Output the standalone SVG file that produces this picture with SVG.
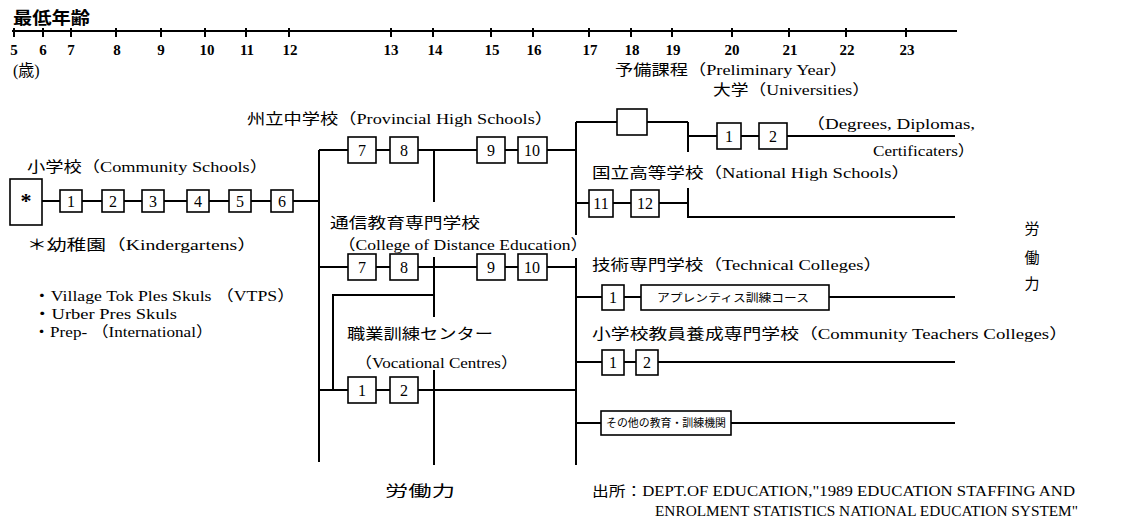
<svg xmlns="http://www.w3.org/2000/svg" width="1122" height="520" viewBox="0 0 1122 520">
<style>
  text { font-family: "Liberation Serif", "Noto Sans CJK JP", serif; fill: #000; }
  .lbl { font-size: 15px; }
  .ax { font-size: 15px; font-weight: bold; text-anchor: middle; }
  .num { font-size: 16px; text-anchor: middle; }
  .sm { font-size: 11px; }
  .box { fill: #fff; stroke: #000; stroke-width: 1.6; }
  .ln { stroke: #000; stroke-width: 2; fill: none; }
</style>
<rect width="1122" height="520" fill="#fff"/>

<g id="axis">
  <text x="13" y="24" style="font-size:17px;font-weight:bold" textLength="77" lengthAdjust="spacingAndGlyphs">最低年齢</text>
  <path class="ln" d="M12 31 H957 M14 28 V37 M43 28 V37 M71 28 V37 M116 28 V37 M161 28 V37 M205 28 V37 M246 28 V37 M289 28 V37 M391 28 V37 M433 28 V37 M491 28 V37 M533 28 V37 M589 28 V37 M631 28 V37 M672 28 V37 M732 28 V37 M789 28 V37 M846 28 V37 M906 28 V37"/>
  <text class="ax" x="14" y="55">5</text>
  <text class="ax" x="43" y="55">6</text>
  <text class="ax" x="71" y="55">7</text>
  <text class="ax" x="117" y="55">8</text>
  <text class="ax" x="161" y="55">9</text>
  <text class="ax" x="207" y="55">10</text>
  <text class="ax" x="247" y="55">11</text>
  <text class="ax" x="290" y="55">12</text>
  <text class="ax" x="391" y="55">13</text>
  <text class="ax" x="435" y="55">14</text>
  <text class="ax" x="492" y="55">15</text>
  <text class="ax" x="534" y="55">16</text>
  <text class="ax" x="590" y="55">17</text>
  <text class="ax" x="632" y="55">18</text>
  <text class="ax" x="673" y="55">19</text>
  <text class="ax" x="732" y="55">20</text>
  <text class="ax" x="790" y="55">21</text>
  <text class="ax" x="847" y="55">22</text>
  <text class="ax" x="907" y="55">23</text>
  <text class="lbl" x="13" y="76" style="font-size:16px">(歳)</text>
</g>

<g id="connectors">
  <path class="ln" d="M42 201 H60 M82 201 H102 M124 201 H142 M164 201 H187 M209 201 H229 M251 201 H271 M293 201 H319"/>
  <path class="ln" d="M319 150 V462"/>
  <path class="ln" d="M319 150 H348 M376 150 H390 M418 150 H477 M505 150 H518 M547 150 H576"/>
  <path class="ln" d="M434 150 V202 M434 257 V317 M434 370 V465"/>
  <path class="ln" d="M319 267 H348 M376 267 H390 M418 267 H477 M505 267 H518 M547 267 H576"/>
  <path class="ln" d="M333 390 V295 H434"/>
  <path class="ln" d="M319 390 H348 M376 390 H390 M418 390 H576"/>
  <path class="ln" d="M576 122 V235 M576 258 V465"/>
  <path class="ln" d="M576 122 H617 M647 122 H688 M688 122 V152 M688 136 H717 M741 136 H759 M787 136 H955"/>
  <path class="ln" d="M576 203 H589 M613 203 H631 M659 203 H688 M688 188 V217 H955"/>
  <path class="ln" d="M576 297 H602 M624 297 H641 M829 297 H955"/>
  <path class="ln" d="M576 362 H602 M624 362 H636 M658 362 H955"/>
  <path class="ln" d="M576 423 H601 M731 423 H955"/>
</g>

<g id="community-schools">
  <text class="lbl" x="27" y="172" textLength="241" lengthAdjust="spacingAndGlyphs">小学校（Community Schools）</text>
  <rect class="box" x="10" y="179" width="32" height="46"/>
  <text class="num" x="26" y="208" style="font-size:22px;font-weight:bold">*</text>
  <rect class="box" x="60" y="190" width="22" height="22"/><text class="num" x="71" y="207">1</text>
  <rect class="box" x="102" y="190" width="22" height="22"/><text class="num" x="113" y="207">2</text>
  <rect class="box" x="142" y="190" width="22" height="22"/><text class="num" x="153" y="207">3</text>
  <rect class="box" x="187" y="190" width="22" height="22"/><text class="num" x="198" y="207">4</text>
  <rect class="box" x="229" y="190" width="22" height="22"/><text class="num" x="240" y="207">5</text>
  <rect class="box" x="271" y="190" width="22" height="22"/><text class="num" x="282" y="207">6</text>
</g>

<g id="kindergartens">
  <text class="lbl" x="27" y="250" textLength="230" lengthAdjust="spacingAndGlyphs">＊幼稚園（Kindergartens）</text>
  <text class="lbl" x="33" y="301" textLength="262" lengthAdjust="spacingAndGlyphs">・Village Tok Ples Skuls （VTPS）</text>
  <text class="lbl" x="33" y="319" textLength="144" lengthAdjust="spacingAndGlyphs">・Urber Pres Skuls</text>
  <text class="lbl" x="33" y="337" textLength="180" lengthAdjust="spacingAndGlyphs">・Prep- （International）</text>
</g>

<g id="provincial-high-schools">
  <text class="lbl" x="247" y="124" textLength="306" lengthAdjust="spacingAndGlyphs">州立中学校（Provincial High Schools）</text>
  <rect class="box" x="348" y="137" width="28" height="26"/><text class="num" x="362" y="156">7</text>
  <rect class="box" x="390" y="137" width="28" height="26"/><text class="num" x="404" y="156">8</text>
  <rect class="box" x="477" y="137" width="28" height="26"/><text class="num" x="491" y="156">9</text>
  <rect class="box" x="518" y="137" width="29" height="26"/><text class="num" x="532" y="156">10</text>
</g>

<g id="distance-education">
  <text class="lbl" x="330" y="228" textLength="150" lengthAdjust="spacingAndGlyphs">通信教育専門学校</text>
  <text class="lbl" x="338" y="250" textLength="250" lengthAdjust="spacingAndGlyphs">（College of Distance Education）</text>
  <rect class="box" x="348" y="254" width="28" height="26"/><text class="num" x="362" y="273">7</text>
  <rect class="box" x="390" y="254" width="28" height="26"/><text class="num" x="404" y="273">8</text>
  <rect class="box" x="477" y="254" width="28" height="26"/><text class="num" x="491" y="273">9</text>
  <rect class="box" x="518" y="254" width="29" height="26"/><text class="num" x="532" y="273">10</text>
</g>

<g id="vocational-centres">
  <text class="lbl" x="347" y="339" textLength="146" lengthAdjust="spacingAndGlyphs">職業訓練センター</text>
  <text class="lbl" x="355" y="368" textLength="163" lengthAdjust="spacingAndGlyphs">（Vocational Centres）</text>
  <rect class="box" x="348" y="377" width="28" height="26"/><text class="num" x="362" y="396">1</text>
  <rect class="box" x="390" y="377" width="28" height="26"/><text class="num" x="404" y="396">2</text>
</g>

<g id="labour-force-bottom">
  <text class="lbl" x="385" y="496" textLength="70" lengthAdjust="spacingAndGlyphs">労働力</text>
</g>

<g id="preliminary-year">
  <text class="lbl" x="615" y="75" textLength="233" lengthAdjust="spacingAndGlyphs">予備課程（Preliminary Year）</text>
  <rect class="box" x="617" y="109" width="30" height="26"/>
</g>

<g id="universities">
  <text class="lbl" x="713" y="95" textLength="157" lengthAdjust="spacingAndGlyphs">大学（Universities）</text>
  <rect class="box" x="717" y="123" width="24" height="26"/><text class="num" x="729" y="142">1</text>
  <rect class="box" x="759" y="123" width="28" height="26"/><text class="num" x="773" y="142">2</text>
  <text class="lbl" x="806" y="129" textLength="169" lengthAdjust="spacingAndGlyphs">（Degrees, Diplomas,</text>
  <text class="lbl" x="873" y="156" textLength="102" lengthAdjust="spacingAndGlyphs">Certificaters）</text>
</g>

<g id="national-high-schools">
  <text class="lbl" x="592" y="178" textLength="318" lengthAdjust="spacingAndGlyphs">国立高等学校（National High Schools）</text>
  <rect class="box" x="589" y="190" width="24" height="27"/><text class="num" x="601" y="209">11</text>
  <rect class="box" x="631" y="190" width="28" height="27"/><text class="num" x="645" y="209">12</text>
</g>

<g id="technical-colleges">
  <text class="lbl" x="592" y="270" textLength="290" lengthAdjust="spacingAndGlyphs">技術専門学校（Technical Colleges）</text>
  <rect class="box" x="602" y="285" width="22" height="25"/><text class="num" x="613" y="303">1</text>
  <rect class="box" x="641" y="285" width="188" height="25"/>
  <text class="sm" x="657" y="302" textLength="152" lengthAdjust="spacingAndGlyphs">アプレンティス訓練コース</text>
</g>

<g id="community-teachers-colleges">
  <text class="lbl" x="592" y="339" textLength="476" lengthAdjust="spacingAndGlyphs">小学校教員養成専門学校（Community Teachers Colleges）</text>
  <rect class="box" x="602" y="350" width="22" height="25"/><text class="num" x="613" y="368">1</text>
  <rect class="box" x="636" y="350" width="22" height="25"/><text class="num" x="647" y="368">2</text>
</g>

<g id="other-institutions">
  <rect class="box" x="601" y="411" width="130" height="24"/>
  <text class="sm" x="606" y="427" textLength="120" lengthAdjust="spacingAndGlyphs">その他の教育・訓練機関</text>
</g>

<g id="labour-force-right">
  <text class="lbl" x="1032" y="234" text-anchor="middle">労</text>
  <text class="lbl" x="1032" y="263" text-anchor="middle">働</text>
  <text class="lbl" x="1032" y="289" text-anchor="middle">力</text>
</g>

<g id="source">
  <text class="lbl" x="592" y="496" style="font-size:14px" textLength="483" lengthAdjust="spacingAndGlyphs">出所：DEPT.OF EDUCATION,"1989 EDUCATION STAFFING AND</text>
  <text class="lbl" x="655" y="516" style="font-size:14px" textLength="423" lengthAdjust="spacingAndGlyphs">ENROLMENT STATISTICS NATIONAL EDUCATION SYSTEM"</text>
</g>
</svg>
